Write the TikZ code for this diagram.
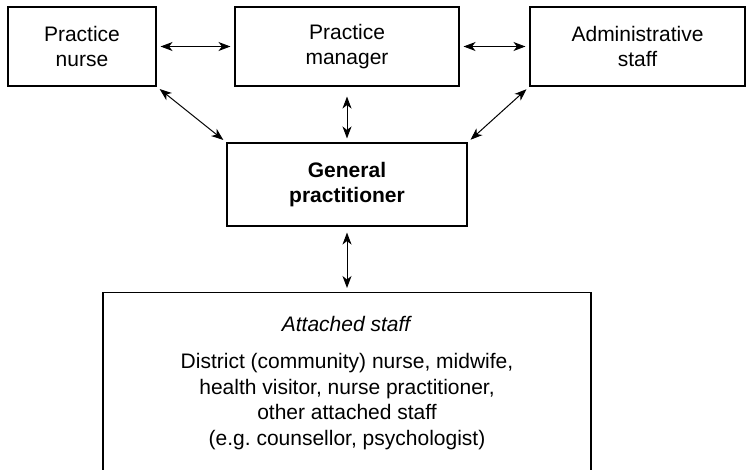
\documentclass[tikz,border=0pt]{standalone}
\usepackage{fontspec}
\setmainfont{Liberation Sans}
\usetikzlibrary{arrows.meta}
\begin{document}
\begin{tikzpicture}[x=1pt,y=-1pt,
  box/.style={draw, line width=1.1pt, inner sep=0pt, align=center,
    font=\fontsize{21}{24.5}\selectfont},
  link/.style={line width=1pt, {Stealth[length=12pt,width=9pt,inset=3.5pt]}-{Stealth[length=12pt,width=9pt,inset=3.5pt]}, shorten <=4pt, shorten >=4pt}]
\useasboundingbox (0,0) rectangle (747,469);
\clip (0,0) rectangle (747,469);
\node[box, minimum width=148pt, minimum height=79pt] (nurse) at (82,46.5) {Practice\\nurse};
\node[box, minimum width=224pt, minimum height=79pt] (mgr) at (347,46.5) {Practice\\manager};
\node[box, minimum width=215pt, minimum height=79pt] (admin) at (637.5,46.5) {Administrative\\staff};
\node[box, minimum width=240pt, minimum height=83pt, font=\fontsize{21}{24.5}\selectfont\bfseries] (gp) at (347,184.5) {General\\practitioner};
\node[box, anchor=north, minimum width=488pt, minimum height=200pt] (att) at (347,292) {};
\node[anchor=north, align=center, inner sep=0pt, font=\fontsize{21}{25.7}\selectfont] (attx) at ([yshift=-24pt]att.north) {\textit{Attached staff}\\[11.3pt]District (community) nurse, midwife,\\health visitor, nurse practitioner,\\other attached staff\\(e.g.\ counsellor, psychologist)};
\draw[link] (nurse.east) -- (mgr.west);
\draw[link] (mgr.east) -- (admin.west);
\draw[link] (nurse.south east) -- (gp.north west);
\draw[link] (admin.south west) -- (gp.north east);
\draw[link, shorten <=10pt] (mgr.south) -- (gp.north);
\draw[link, shorten <=6pt] (gp.south) -- (att.north -| gp.south);
\end{tikzpicture}
\end{document}
